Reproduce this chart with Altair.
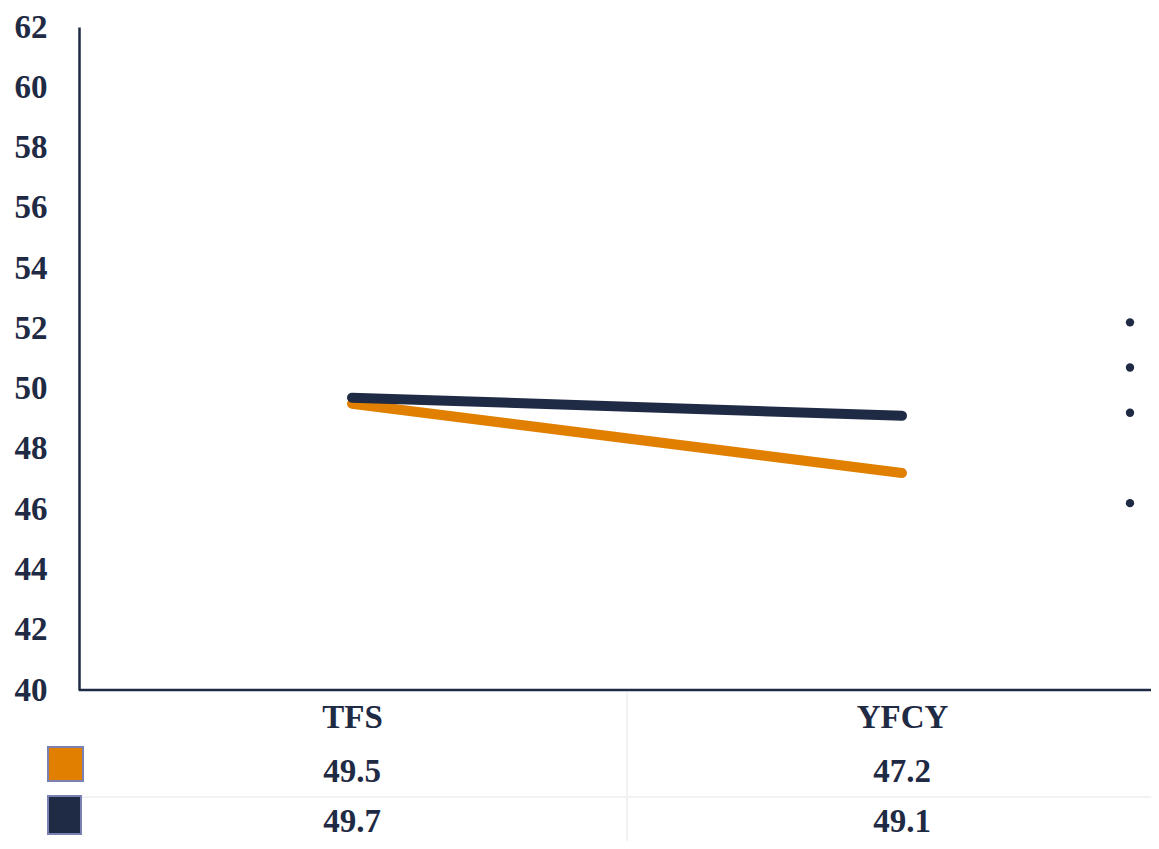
import altair as alt
import pandas as pd

categories = ["TFS", "YFCY"]
orange_values = [49.5, 47.2]
navy_values = [49.7, 49.1]
dot_values = [52.2, 50.7, 49.2, 46.2]
y_ticks = list(range(40, 63, 2))

NAVY = "#1f2a44"
ORANGE = "#e07f00"
GRIDC = "#f2f2f4"
FONT = "Liberation Serif"
FS = 33
W = 1072
H = 663

rows = []
for i, c in enumerate(categories):
    rows.append({"cat": c, "series": "s1", "value": orange_values[i]})
    rows.append({"cat": c, "series": "s2", "value": navy_values[i]})
df = pd.DataFrame(rows)
dots = pd.DataFrame({"value": dot_values})
one = pd.DataFrame({"a": [0]})

x_scale = alt.Scale(type="point", domain=categories, range=[273, 823], padding=0)
y_scale = alt.Scale(domain=[40, 62], nice=False, zero=False)

x_axis = alt.Axis(title=None, ticks=False, grid=False, domain=False,
                  labelFont=FONT, labelFontSize=FS, labelFontWeight="bold", labelColor=NAVY,
                  labelPadding=11, labelAngle=0)
y_axis = alt.Axis(title=None, ticks=False, grid=False, domainColor=NAVY, domainWidth=2.5,
                  labelFont=FONT, labelFontSize=FS, labelFontWeight="bold", labelColor=NAVY,
                  labelPadding=32, values=y_ticks)

base = alt.Chart(df)

lines = base.mark_line(strokeWidth=10, strokeCap="round").encode(
    x=alt.X("cat:N", scale=x_scale, axis=x_axis, sort=categories),
    y=alt.Y("value:Q", scale=y_scale, axis=y_axis),
    color=alt.Color("series:N", scale=alt.Scale(domain=["s1", "s2"], range=[ORANGE, NAVY]), legend=None),
    order=alt.Order("cat:N"),
)

dot_layer = alt.Chart(dots).mark_circle(size=70, opacity=1, color=NAVY).encode(
    x=alt.value(1051),
    y=alt.Y("value:Q", scale=y_scale),
)

xaxis_line = alt.Chart(one).mark_rule(color=NAVY, strokeWidth=2.5).encode(
    x=alt.value(0), x2=alt.value(W), y=alt.value(H))
vrule = alt.Chart(one).mark_rule(color=GRIDC, strokeWidth=2).encode(
    x=alt.value(548), y=alt.value(665), y2=alt.value(830))
hrule = alt.Chart(one).mark_rule(color=GRIDC, strokeWidth=2).encode(
    x=alt.value(1), x2=alt.value(W), y=alt.value(770))

text_style = dict(font=FONT, fontSize=FS, fontWeight="bold", color=NAVY, baseline="middle", align="center")
t1 = base.transform_filter(alt.datum.series == "s1").mark_text(**text_style).encode(
    x=alt.X("cat:N", scale=x_scale), y=alt.value(745), text=alt.Text("value:Q", format=".1f"))
t2 = base.transform_filter(alt.datum.series == "s2").mark_text(**text_style).encode(
    x=alt.X("cat:N", scale=x_scale), y=alt.value(795), text=alt.Text("value:Q", format=".1f"))

sw1 = alt.Chart(one).mark_rect(color=ORANGE, stroke="#7b80b2", strokeWidth=2).encode(
    x=alt.value(-31), x2=alt.value(4), y=alt.value(720), y2=alt.value(754))
sw2 = alt.Chart(one).mark_rect(color=NAVY, stroke="#7b80b2", strokeWidth=2).encode(
    x=alt.value(-31), x2=alt.value(2), y=alt.value(769), y2=alt.value(807))

chart = alt.layer(vrule, hrule, xaxis_line, lines, dot_layer, t1, t2, sw1, sw2).properties(
    width=W, height=H,
    background="white",
    autosize=alt.AutoSizeParams(type="none"),
    padding={"left": 71, "top": 19, "right": 0, "bottom": 151},
).configure_view(stroke=None)

chart.save("out.html", embed_options={"renderer": "svg", "actions": False})
